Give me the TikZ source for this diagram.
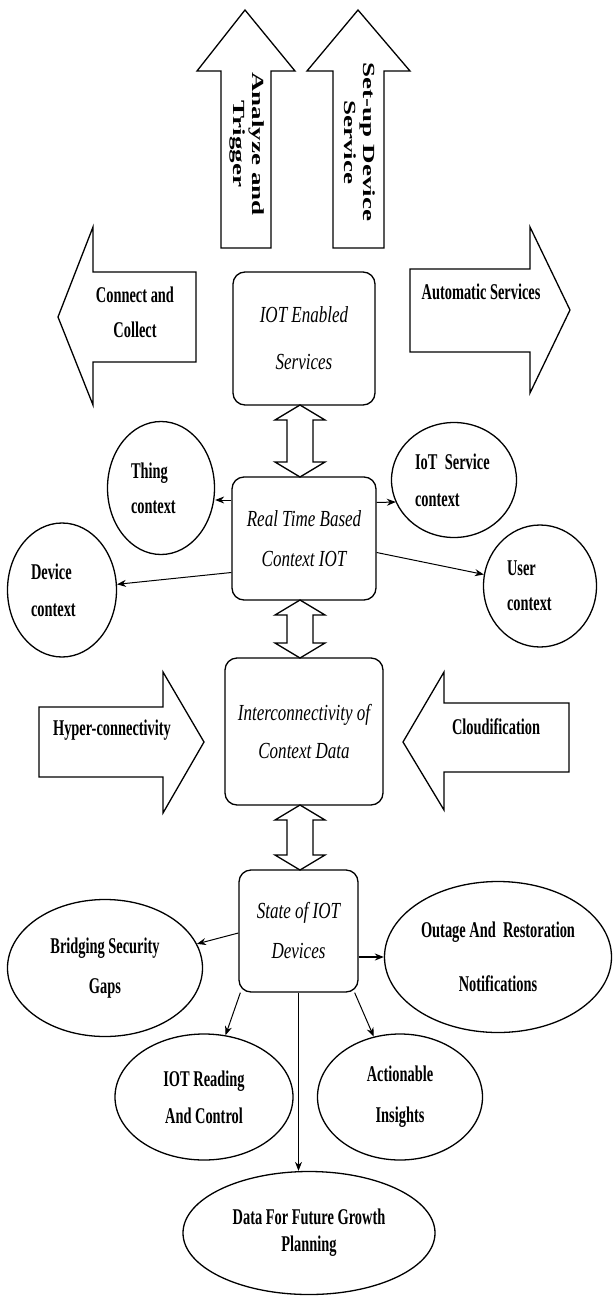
\documentclass[tikz,border=0pt]{standalone}
\usepackage{fontspec}
\newfontfamily\cbf[FakeStretch=0.64]{Liberation Serif}
\newfontfamily\cit[FakeStretch=0.74]{Liberation Serif}
\newfontfamily\rbf{Liberation Serif}
\usetikzlibrary{shapes.geometric,arrows.meta,calc}
\newcommand\dblarr[2]{\draw[blk] (300,#1) -- (325,#1+15) -- (313,#1+15) -- (313,#2-15) -- (325,#2-15) -- (300,#2) -- (275,#2-15) -- (287,#2-15) -- (287,#1+15) -- (275,#1+15) -- cycle;}
\begin{document}
\begin{tikzpicture}[x=1pt,y=-1pt,
  line width=1.3pt,
  bx/.style={draw, rectangle, rounded corners=12pt, fill=white, align=center, inner sep=0pt},
  itx/.style={font=\cit\itshape\fontsize{23}{#1}\selectfont},
  el/.style={draw, ellipse, fill=white, inner sep=0pt},
  btx/.style={font=\cbf\bfseries\fontsize{22.5}{#1}\selectfont},
  blk/.style={draw, fill=white, line join=miter},
  arr/.style={line width=1pt, -{Stealth[length=9pt,width=7pt]}},
  rot/.style={rotate=-90, yscale=0.63, align=center, inner sep=0pt, font=\rbf\bfseries\fontsize{27}{31}\selectfont},
]
\fill[white] (0,0) rectangle (613,1298);
\useasboundingbox (0,0) rectangle (613,1298);

% top block arrows
\draw[blk] (245,10) -- (295,71) -- (271,71) -- (271,248) -- (221,248) -- (221,71) -- (197,71) -- cycle;
\node[rot] (atrig) at (247,144) {Analyze and\\Trigger};
\draw[blk] (358,10) -- (410,71) -- (384,71) -- (384,248) -- (333,248) -- (333,71) -- (307,71) -- cycle;
\node[rot] (setup) at (360,142) {Set-up Device\\Service};

% side block arrows
\draw[blk] (58,317) -- (93,227) -- (93,272) -- (196,272) -- (196,362) -- (93,362) -- (93,405) -- cycle;
\node[btx=35, align=center] (cc) at (135,312) {Connect and\\Collect};
\draw[blk] (570,310) -- (530,227) -- (530,269) -- (410,269) -- (410,352) -- (530,352) -- (530,393) -- cycle;
\node[btx=35] (as) at (481,292) {Automatic Services};
\draw[blk] (204,742) -- (163,672) -- (163,707) -- (39,707) -- (39,777) -- (163,777) -- (163,813) -- cycle;
\node[btx=35] (hc) at (112,730) {Hyper-connectivity};
\draw[blk] (403,742) -- (444,672) -- (444,703) -- (569,703) -- (569,772) -- (444,772) -- (444,810) -- cycle;
\node[btx=35] (cl) at (496,727) {Cloudification};

% central boxes
\node[bx, itx=47, minimum width=142pt, minimum height=133pt] (ies) at (304,338.5) {IOT Enabled\\Services};
\node[bx, itx=40, minimum width=144pt, minimum height=123pt] (rt) at (304,538.5) {Real Time Based\\Context IOT};
\node[bx, itx=38, minimum width=158pt, minimum height=147pt] (icd) at (304,731.5) {Interconnectivity of\\Context Data};
\node[bx, itx=40, minimum width=119pt, minimum height=122pt] (st) at (298.5,931) {State of IOT\\Devices};

\dblarr{405}{477}
\dblarr{600}{658}
\dblarr{805}{870}

% context ellipses
\node[el, btx=35, minimum width=107pt, minimum height=133pt, text width=60pt, align=left] (thing) at (161,488) {Thing\\context};
\node[el, btx=37, minimum width=125pt, minimum height=115pt, text width=78pt, align=left] (iots) at (454,480) {IoT Service\\context};
\node[el, btx=37, minimum width=109pt, minimum height=134pt, text width=62pt, align=left] (dev) at (62,590) {Device\\context};
\node[el, btx=35, minimum width=113pt, minimum height=122pt, text width=66pt, align=left] (user) at (540,586) {User\\context};

% outcome ellipses
\node[el, btx=40, minimum width=195pt, minimum height=137pt, align=center] (brid) at (105,968) {Bridging Security\\Gaps};
\node[el, btx=54, minimum width=227pt, minimum height=151pt, align=center] (out) at (498,957) {Outage And\ \ Restoration\\Notifications};
\node[el, btx=37, minimum width=178pt, minimum height=126pt, align=center] (read) at (204,1097) {IOT Reading\\And Control};
\node[el, btx=41, minimum width=165pt, minimum height=126pt, align=center] (act) at (400,1097) {Actionable\\Insights};
\node[el, btx=27, minimum width=252pt, minimum height=123pt, align=center] (data) at (309,1233) {Data For Future Growth\\Planning};

% connectors
\draw[arr] ($(rt.west|-thing.east)+(0,12)$) -- ($(thing.east)+(0,12)$);
\draw[arr] ($(rt.east)+(0,-36)$) -- ($(iots.west)+(5,22)$);
\draw[arr] ($(rt.west)+(0,34)$) -- (dev);
\draw[arr] ($(rt.east)+(0,14)$) -- (user);
\draw[arr] ($(st.west)+(0,2)$) -- (brid);
\draw[arr, line width=2pt] ($(st.east)+(0,26)$) -- (out.west);
\draw[arr] ($(st.south west)+(2,0)$) -- (read);
\draw[arr] ($(st.south east)+(-4,0)$) -- (act);
\draw[arr] (st.south) -- (st.south |- data.north);
\end{tikzpicture}
\end{document}
